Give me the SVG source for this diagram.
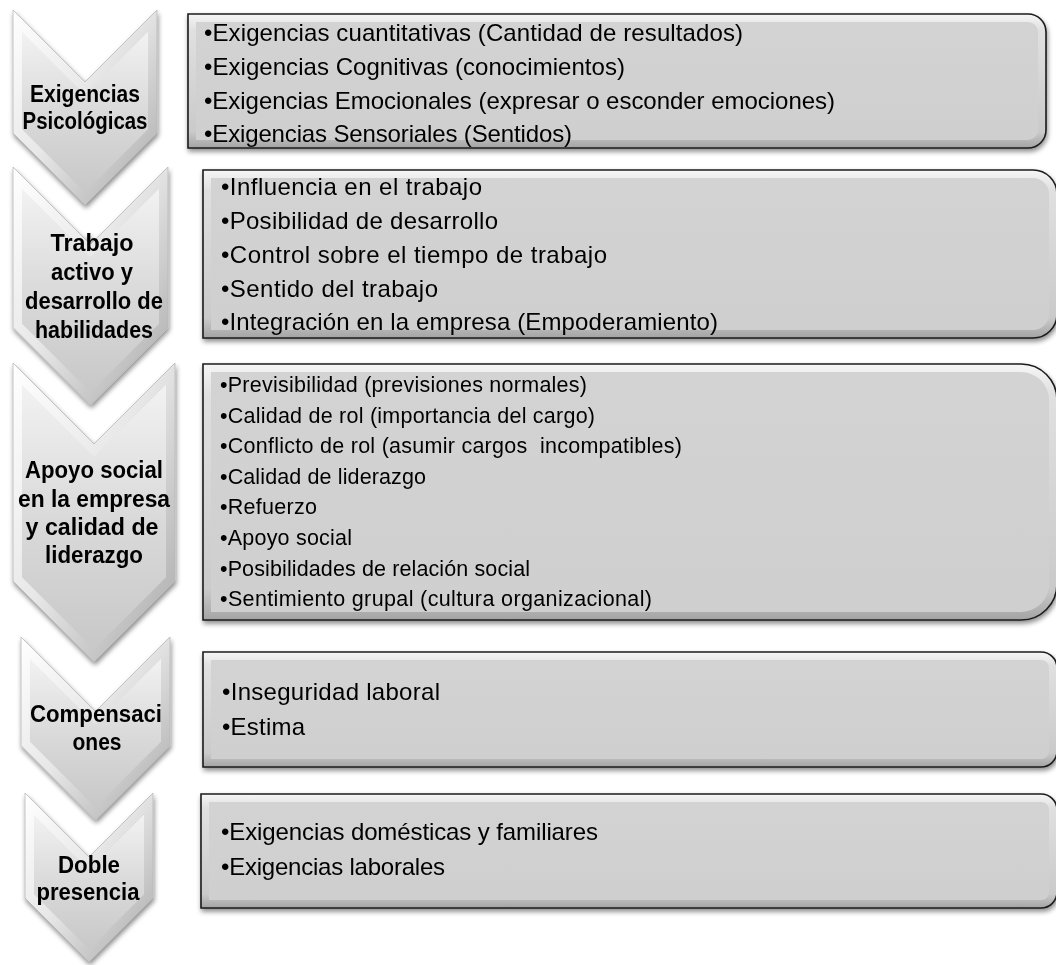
<svg xmlns="http://www.w3.org/2000/svg" width="1056" height="965" viewBox="0 0 1056 965">
<defs>
<linearGradient id="chevOuter" x1="0" y1="0" x2="1" y2="1">
<stop offset="0" stop-color="#ffffff"/>
<stop offset="0.45" stop-color="#e8e8e8"/>
<stop offset="1" stop-color="#a8a8a8"/>
</linearGradient>
<linearGradient id="chevInner" x1="0" y1="0" x2="0" y2="1">
<stop offset="0" stop-color="#f2f2f2"/>
<stop offset="0.5" stop-color="#dadada"/>
<stop offset="1" stop-color="#c8c8c8"/>
</linearGradient>
<linearGradient id="boxOuter" x1="0" y1="0" x2="0" y2="1">
<stop offset="0" stop-color="#f6f6f6"/>
<stop offset="0.12" stop-color="#e0e0e0"/>
<stop offset="0.88" stop-color="#cacaca"/>
<stop offset="1" stop-color="#a4a4a4"/>
</linearGradient>
<linearGradient id="boxInner" x1="0" y1="0" x2="0" y2="1">
<stop offset="0" stop-color="#d3d3d3"/>
<stop offset="1" stop-color="#cfcfcf"/>
</linearGradient>
<filter id="shadow" x="-5%" y="-5%" width="112%" height="115%">
<feGaussianBlur in="SourceAlpha" stdDeviation="2.5"/>
<feOffset dx="1" dy="3" result="b"/>
<feComponentTransfer><feFuncA type="linear" slope="0.45"/></feComponentTransfer>
<feMerge><feMergeNode/><feMergeNode in="SourceGraphic"/></feMerge>
</filter>
</defs>
<style>
.co{fill:url(#chevOuter);stroke:#b8b8b8;stroke-width:0.8}
.ci{fill:url(#chevInner);stroke:none}
.bo{fill:url(#boxOuter);stroke:#1c1c1c;stroke-width:1.6}
.bi{fill:url(#boxInner);stroke:none}
.ct{font-family:"Liberation Sans",Arial,sans-serif;font-weight:bold;font-size:23px;fill:#000;text-anchor:middle}
.bt{font-family:"Liberation Sans",Arial,sans-serif;font-size:24px;fill:#000}
.bs{font-family:"Liberation Sans",Arial,sans-serif;font-size:21.5px;fill:#000}
</style>
<rect width="1056" height="965" fill="#ffffff"/>
<g id="connectors"/>

<g id="chevron1" filter="url(#shadow)">
<polygon class="co" points="13,10 85,82 157,10 157,133 85,205 13,133"/>
<polygon class="ci" points="22,31.7 85,94.7 148,31.7 148,129.3 85,192.3 22,129.3"/>
<text class="ct" x="85" y="102" textLength="110" lengthAdjust="spacingAndGlyphs">Exigencias</text>
<text class="ct" x="85" y="129" textLength="125" lengthAdjust="spacingAndGlyphs">Psicológicas</text>
</g>

<g id="chevron2" filter="url(#shadow)">
<polygon class="co" points="13,167 90.5,244.5 168,167 168,327.5 90.5,405 13,327.5"/>
<polygon class="ci" points="22,188.7 90.5,257.2 159,188.7 159,323.8 90.5,392.3 22,323.8"/>
<text class="ct" x="92" y="251" textLength="83" lengthAdjust="spacingAndGlyphs">Trabajo</text>
<text class="ct" x="92" y="280" textLength="82" lengthAdjust="spacingAndGlyphs">activo y</text>
<text class="ct" x="94" y="309" textLength="138" lengthAdjust="spacingAndGlyphs">desarrollo de</text>
<text class="ct" x="94" y="338" textLength="118" lengthAdjust="spacingAndGlyphs">habilidades</text>
</g>

<g id="chevron3" filter="url(#shadow)">
<polygon class="co" points="13,363 94,444 175,363 175,581 94,662 13,581"/>
<polygon class="ci" points="22,384.7 94,456.7 166,384.7 166,577.3 94,649.3 22,577.3"/>
<text class="ct" x="94" y="478" textLength="138" lengthAdjust="spacingAndGlyphs">Apoyo social</text>
<text class="ct" x="94" y="507" textLength="152" lengthAdjust="spacingAndGlyphs">en la empresa</text>
<text class="ct" x="92" y="535" textLength="133" lengthAdjust="spacingAndGlyphs">y calidad de</text>
<text class="ct" x="94" y="563" textLength="98" lengthAdjust="spacingAndGlyphs">liderazgo</text>
</g>

<g id="chevron4" filter="url(#shadow)">
<polygon class="co" points="21,637 95.5,711.5 170,637 170,745.5 95.5,820 21,745.5"/>
<polygon class="ci" points="30,658.7 95.5,724.2 161,658.7 161,741.8 95.5,807.3 30,741.8"/>
<text class="ct" x="96" y="722" textLength="132" lengthAdjust="spacingAndGlyphs">Compensaci</text>
<text class="ct" x="97" y="750" textLength="49" lengthAdjust="spacingAndGlyphs">ones</text>
</g>

<g id="chevron5" filter="url(#shadow)">
<polygon class="co" points="25,793 89,857 153,793 153,898 89,962 25,898"/>
<polygon class="ci" points="34,814.7 89,869.7 144,814.7 144,894.3 89,949.3 34,894.3"/>
<text class="ct" x="89" y="873" textLength="62" lengthAdjust="spacingAndGlyphs">Doble</text>
<text class="ct" x="88" y="900" textLength="103" lengthAdjust="spacingAndGlyphs">presencia</text>
</g>

<g id="box1" filter="url(#shadow)">
<path class="bo" d="M188,14 H1028 A18,18 0 0 1 1046,32 V130 A18,18 0 0 1 1028,148 H188 Z"/>
<path class="bi" d="M196,22 H1028 A10,10 0 0 1 1038,32 V130 A10,10 0 0 1 1028,140 H196 Z"/>
<text class="bt" x="204" y="41" textLength="539">•Exigencias cuantitativas (Cantidad de resultados)</text>
<text class="bt" x="204" y="75" textLength="421">•Exigencias Cognitivas (conocimientos)</text>
<text class="bt" x="204" y="109" textLength="631">•Exigencias Emocionales (expresar o esconder emociones)</text>
<text class="bt" x="204" y="142" textLength="368">•Exigencias Sensoriales (Sentidos)</text>
</g>

<g id="box2" filter="url(#shadow)">
<path class="bo" d="M203,170 H1033 A24,24 0 0 1 1057,194 V314 A24,24 0 0 1 1033,338 H203 Z"/>
<path class="bi" d="M211,178 H1033 A16,16 0 0 1 1049,194 V314 A16,16 0 0 1 1033,330 H211 Z"/>
<text class="bt" x="221" y="195" textLength="261">•Influencia en el trabajo</text>
<text class="bt" x="221" y="229" textLength="277">•Posibilidad de desarrollo</text>
<text class="bt" x="221" y="263" textLength="386">•Control sobre el tiempo de trabajo</text>
<text class="bt" x="221" y="297" textLength="217">•Sentido del trabajo</text>
<text class="bt" x="221" y="330" textLength="497">•Integración en la empresa (Empoderamiento)</text>
</g>

<g id="box3" filter="url(#shadow)">
<path class="bo" d="M203,364 H1021 A36,36 0 0 1 1057,400 V584 A36,36 0 0 1 1021,620 H203 Z"/>
<path class="bi" d="M211,372 H1021 A28,28 0 0 1 1049,400 V584 A28,28 0 0 1 1021,612 H211 Z"/>
<text class="bs" x="220" y="392" textLength="367">•Previsibilidad (previsiones normales)</text>
<text class="bs" x="220" y="423" textLength="375">•Calidad de rol (importancia del cargo)</text>
<text class="bs" x="220" y="453" textLength="462" xml:space="preserve">•Conflicto de rol (asumir cargos  incompatibles)</text>
<text class="bs" x="220" y="484" textLength="206">•Calidad de liderazgo</text>
<text class="bs" x="220" y="514" textLength="97">•Refuerzo</text>
<text class="bs" x="220" y="545" textLength="132">•Apoyo social</text>
<text class="bs" x="220" y="576" textLength="310">•Posibilidades de relación social</text>
<text class="bs" x="220" y="606" textLength="432">•Sentimiento grupal (cultura organizacional)</text>
</g>

<g id="box4" filter="url(#shadow)">
<path class="bo" d="M203,652 H1041 A16,16 0 0 1 1057,668 V751 A16,16 0 0 1 1041,767 H203 Z"/>
<path class="bi" d="M211,660 H1041 A8,8 0 0 1 1049,668 V751 A8,8 0 0 1 1041,759 H211 Z"/>
<text class="bt" x="222" y="700" textLength="218">•Inseguridad laboral</text>
<text class="bt" x="222" y="735" textLength="83">•Estima</text>
</g>

<g id="box5" filter="url(#shadow)">
<path class="bo" d="M201,794 H1041 A16,16 0 0 1 1057,810 V892 A16,16 0 0 1 1041,908 H201 Z"/>
<path class="bi" d="M209,802 H1041 A8,8 0 0 1 1049,810 V892 A8,8 0 0 1 1041,900 H209 Z"/>
<text class="bt" x="221" y="840" textLength="377">•Exigencias domésticas y familiares</text>
<text class="bt" x="221" y="875" textLength="224">•Exigencias laborales</text>
</g>
</svg>
